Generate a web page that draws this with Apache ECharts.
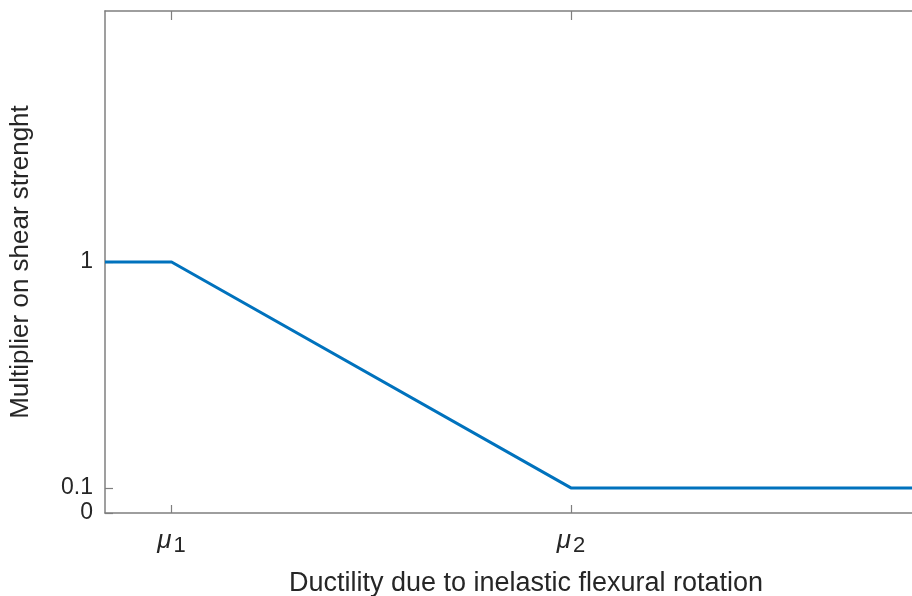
<!DOCTYPE html>
<html><head><meta charset="utf-8">
<script src="https://cdn.jsdelivr.net/npm/echarts@6/dist/echarts.min.js"></script>
<style>html,body{margin:0;padding:0;background:#fff}#c{width:912px;height:596px}</style>
</head><body><div id="c"></div>
<script>
// Data
const xValues = [0, 1, 7, 12.65];
const yValues = [1, 1, 0.1, 0.1];
const xTickValues = [1, 7];
const xTickLabels = ['{mu|μ}{sub|1}', '{mu|μ}{sub|2}'];
const yTickValues = [0, 0.1, 1];
const yTickLabels = ['0', '0.1', '1'];
const xName = 'Ductility due to inelastic flexural rotation';
const yName = 'Multiplier on shear strenght';

const chart = echarts.init(document.getElementById('c'));
const axisColor = '#7f7f7f';
const font = 'Liberation Sans, Arial, sans-serif';
chart.setOption({
  animation: false,
  grid: {left: 105, top: 11, width: 842, bottom: 83, containLabel: false, outerBoundsMode: 'none'},
  xAxis: [{
    type: 'value', min: 0, max: 12.65, position: 'bottom',
    axisLine: {show: true, lineStyle: {color: axisColor, width: 1.5}},
    axisTick: {show: true, inside: true, length: 8, customValues: xTickValues, lineStyle: {color: axisColor, width: 1.2}},
    axisLabel: {
      customValues: xTickValues, margin: 12,
      formatter: v => xTickLabels[xTickValues.indexOf(v)] || '',
      rich: {
        mu: {fontFamily: font, fontStyle: 'italic', fontSize: 26, color: '#262626'},
        sub: {fontFamily: font, fontSize: 22, color: '#262626', padding: [10, 0, 0, 2]}
      }
    },
    splitLine: {show: false},
    name: xName, nameLocation: 'middle', nameGap: 57,
    nameTextStyle: {fontFamily: font, fontSize: 27, color: '#262626'}
  }, {
    type: 'value', min: 0, max: 12.65, position: 'top',
    axisLine: {show: true, lineStyle: {color: axisColor, width: 1.5}},
    axisTick: {show: true, inside: true, length: 9, customValues: xTickValues, lineStyle: {color: axisColor, width: 1.2}},
    axisLabel: {show: false},
    splitLine: {show: false}
  }],
  yAxis: {
    type: 'value', min: 0, max: 2,
    axisLine: {show: true, lineStyle: {color: axisColor, width: 1.5}},
    axisTick: {show: true, inside: true, length: 8, customValues: yTickValues, lineStyle: {color: axisColor, width: 1.2}},
    axisLabel: {
      customValues: yTickValues, margin: 12,
      formatter: v => yTickLabels[yTickValues.indexOf(v)] ?? '',
      fontFamily: font, fontSize: 23, color: '#262626'
    },
    splitLine: {show: false},
    name: yName, nameLocation: 'middle', nameGap: 71, nameRotate: 90,
    nameTextStyle: {fontFamily: font, fontSize: 26, color: '#262626'}
  },
  series: [{
    type: 'line', xAxisIndex: 0,
    data: xValues.map((x, i) => [x, yValues[i]]),
    showSymbol: false, symbol: 'none',
    lineStyle: {color: '#0072BD', width: 3}
  }]
});
</script></body></html>
